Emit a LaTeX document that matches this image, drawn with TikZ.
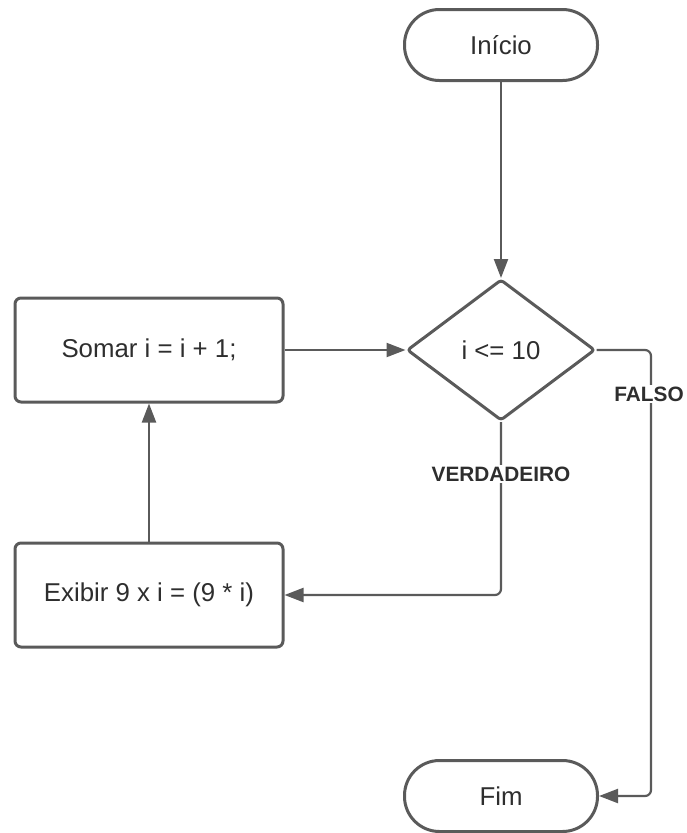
\documentclass[tikz,border=0pt]{standalone}
\usepackage{fontspec}
\setmainfont{Liberation Sans}
\usetikzlibrary{shapes.geometric,arrows.meta}
\definecolor{lineGray}{HTML}{5A5A5A}
\definecolor{textGray}{HTML}{2E2E2E}
\begin{document}
\begin{tikzpicture}[x=1pt,y=-1pt,
  every node/.style={text=textGray,font=\fontsize{25.8}{30}\selectfont},
  shapeline/.style={draw=lineGray,line width=3pt,line join=round},
  terminal/.style={shapeline,rectangle,rounded corners=35pt,minimum width=193pt,minimum height=71pt,inner sep=0pt},
  process/.style={shapeline,rectangle,rounded corners=6pt,minimum width=268pt,minimum height=104pt,inner sep=0pt},
  decision/.style={shapeline,diamond,rounded corners=3pt,minimum width=188pt,minimum height=141pt,inner sep=0pt},
  flow/.style={draw=lineGray,line width=2.2pt,rounded corners=6pt,-{Triangle[length=19pt,width=14pt]}},
  branch/.style={fill=white,font=\bfseries\fontsize{20.8}{25}\selectfont,inner sep=2pt}
]
\useasboundingbox (0,0) rectangle (686,833);

\node[terminal] (inicio) at (501,45) {Início};
\node[decision] (teste) at (501,350) {i <= 10};
\node[process] (somar) at (149,350) {Somar i = i + 1;};
\node[process] (exibir) at (149,595) {Exibir 9 x i = (9 * i)};
\node[terminal] (fim) at (501,796) {Fim};

\coordinate (fdown) at (651,350);
\coordinate (fbot) at (651,796);
\coordinate (vbot) at (501,595);

\draw[flow] (inicio.south) -- (teste.north);
\draw[flow] (somar.east) -- (teste.west);
\draw[flow] (teste.east) -- (fdown) -- (fbot) -- (fim.east);
\draw[flow] (teste.south) -- (vbot) -- (exibir.east);
\draw[flow] (exibir.north) -- (somar.south);

\node[branch] (lblfalso) at (649,394) {FALSO};
\node[branch] (lblverd) at (501,474) {VERDADEIRO};
\end{tikzpicture}
\end{document}
